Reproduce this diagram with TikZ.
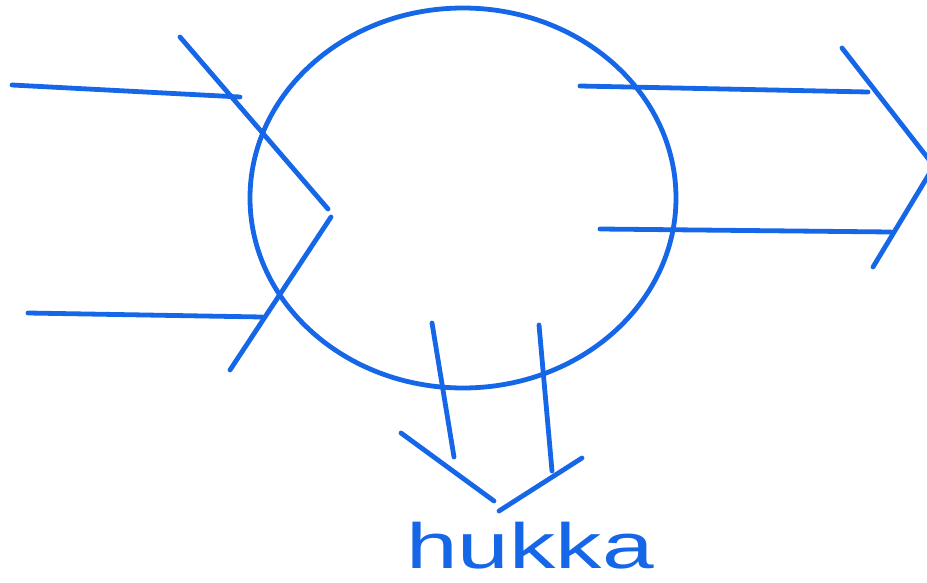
\documentclass[tikz,border=0pt]{standalone}
\usepackage{fontspec}
\setmainfont{Liberation Sans}
\usepackage{tikz}
\usetikzlibrary{shapes.geometric, positioning, calc}

\definecolor{pen}{RGB}{22,102,232}

\begin{document}
\begin{tikzpicture}[
        x=1pt, y=-1pt,
        stroke/.style={draw=pen, line width=4.8pt, line cap=round},
        blob/.style={draw=pen, line width=4.8pt, ellipse, minimum width=426, minimum height=380, inner sep=0pt},
        lbl/.style={text=pen, font=\fontsize{64}{64}\selectfont, inner sep=0pt, xscale=1.45}
    ]
        \useasboundingbox (0,0) rectangle (927,583);

        % --- Process ---
        \node[blob] (proc) at (463,198) {};

        % --- Inputs (left) ---
        \coordinate (inA) at (12,85);
        \coordinate (inAend) at (240,97);
        \coordinate (inB) at (28,313);
        \coordinate (inBend) at (262,317);
        \draw[stroke] (inA) -- (inAend);
        \draw[stroke] (inB) -- (inBend);
        \coordinate (lheadA) at (180,37);
        \coordinate (lheadTip) at (328,209);
        \coordinate (lheadB) at (331,217);
        \coordinate (lheadC) at (230,370);
        \draw[stroke] (lheadA) -- (lheadTip);
        \draw[stroke] (lheadB) -- (lheadC);

        % --- Outputs (right) ---
        \coordinate (outA) at (580,86);
        \coordinate (outAend) at (868,92);
        \coordinate (outB) at (600,229);
        \coordinate (outBend) at (891,232);
        \draw[stroke] (outA) -- (outAend);
        \draw[stroke] (outB) -- (outBend);
        \coordinate (rheadA) at (842,48);
        \coordinate (rheadTip) at (934,166);
        \coordinate (rheadB) at (873,267);
        \draw[stroke] (rheadA) -- (rheadTip);
        \draw[stroke] (rheadTip) -- (rheadB);

        % --- Loss (bottom) ---
        \coordinate (lossA) at (432,323);
        \coordinate (lossAend) at (454,457);
        \coordinate (lossB) at (539,325);
        \coordinate (lossBend) at (552,471);
        \draw[stroke] (lossA) -- (lossAend);
        \draw[stroke] (lossB) -- (lossBend);
        \coordinate (dheadA) at (401,433);
        \coordinate (dheadTip) at (494,501);
        \coordinate (dheadB) at (499,511);
        \coordinate (dheadC) at (582,458);
        \draw[stroke] (dheadA) -- (dheadTip);
        \draw[stroke] (dheadB) -- (dheadC);

        \node[lbl, anchor=base west] (loss) at (406,568) {hukka};
    \end{tikzpicture}
\end{document}
